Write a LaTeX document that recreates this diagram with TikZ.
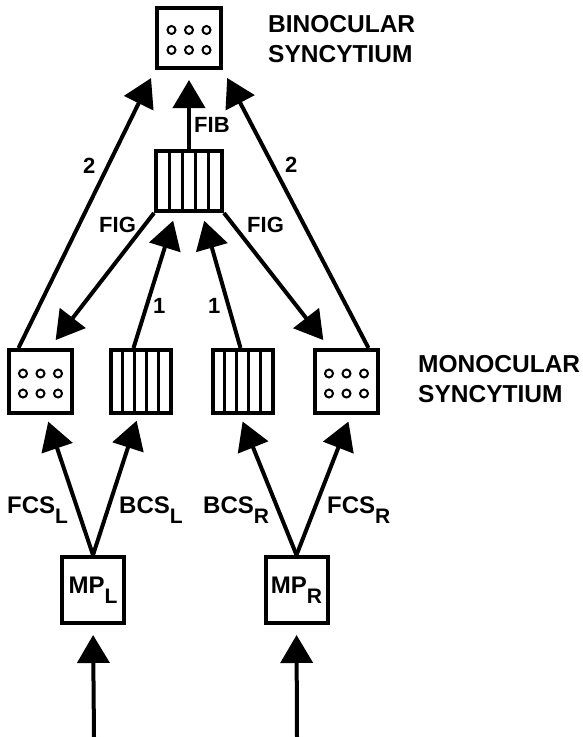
\documentclass[tikz,border=0pt]{standalone}
\usepackage{fontspec}
\setmainfont{Liberation Sans}
\usetikzlibrary{arrows.meta,calc}
\newcommand{\lowsub}[1]{\raisebox{-0.42em}{\fontsize{21}{21}\selectfont #1}}

\begin{document}
\begin{tikzpicture}[x=1pt,y=-1pt,
    arr/.style={line width=4pt,-{Triangle[length=28pt,width=32pt]}},
    dotbox/.style={draw,line width=4pt,inner sep=0pt,minimum width=63pt,minimum height=63pt,
      path picture={\foreach \i in {-1,0,1} \foreach \j in {-1,1}
        \draw[line width=2pt] ([xshift=\i*17.5pt,yshift={\j*10pt-2pt}]path picture bounding box.center) circle (4pt);}},
    stripebox/.style={draw,line width=4pt,inner sep=0pt,minimum width=60pt,minimum height=63pt,
      path picture={\foreach \k in {1,...,4}
        \draw[line width=3pt] ($(path picture bounding box.south west)!\k/5!(path picture bounding box.south east)$)
          -- ($(path picture bounding box.north west)!\k/5!(path picture bounding box.north east)$);}},
    mpbox/.style={draw,line width=4pt,inner sep=0pt,minimum width=62pt,minimum height=66pt,
      font=\fontsize{24}{24}\selectfont\bfseries},
    lbl/.style={inner sep=0pt,font=\fontsize{22}{22}\selectfont\bfseries},
    sublbl/.style={lbl,font=\fontsize{24}{24}\selectfont\bfseries},
    title/.style={inner sep=0pt,align=left,font=\fontsize{24.5}{30}\selectfont\bfseries}]
  \useasboundingbox (0,0) rectangle (582,737);

  % boxes
  \node[dotbox,minimum width=64pt,minimum height=60pt] (bin) at (189,38) {};
  \node[stripebox,minimum width=66pt,minimum height=60pt] (fib) at (189,181) {};
  \node[dotbox] (monoL) at (40.5,381.5) {};
  \node[stripebox] (stripL) at (140.5,381.5) {};
  \node[stripebox] (stripR) at (242.5,381.5) {};
  \node[dotbox] (monoR) at (346.5,381.5) {};
  \node[mpbox] (mpL) at (93,590) {MP\lowsub{L}};
  \node[mpbox] (mpR) at (296.5,590) {MP\lowsub{R}};
  \coordinate (inL) at (94,737);
  \coordinate (inR) at (297,737);

  % titles
  \node[title,anchor=north west] (bintext) at (268,15) {BINOCULAR\\SYNCYTIUM};
  \node[title,anchor=north west] (monotext) at (418,355) {MONOCULAR\\SYNCYTIUM};

  % arrows
  \draw[arr,shorten >=10pt] (fib.north) -- (bin.south);
  \draw[arr,shorten >=9pt] ([xshift=-22pt]monoL.north) -- (bin.south west);
  \draw[arr,shorten >=9pt] ([xshift=22pt]monoR.north) -- (bin.south east);
  \draw[arr,shorten >=10pt] (fib.south west) -- ([xshift=9pt]monoL.north);
  \draw[arr,shorten >=10pt] (fib.south east) -- ([xshift=-17pt]monoR.north);
  \draw[arr,shorten >=8pt] ([xshift=-7pt]stripL.north) -- ([xshift=-13.5pt]fib.south);
  \draw[arr,shorten >=8pt] ([xshift=-2pt]stripR.north) -- ([xshift=13pt]fib.south);
  \draw[arr,shorten >=7pt] (mpL.north) -- ([xshift=5.5pt]monoL.south);
  \draw[arr,shorten >=6pt] (mpL.north) -- ([xshift=-2pt]stripL.south);
  \draw[arr,shorten >=7pt] (mpR.north) -- ([xshift=-2.5pt]stripR.south);
  \draw[arr,shorten >=7pt] (mpR.north) -- ([xshift=4.5pt]monoR.south);
  \draw[arr,shorten >=10pt] (inL) -- (mpL.south);
  \draw[arr,shorten >=10pt] (inR) -- (mpR.south);

  % labels
  \node[lbl,anchor=base west] (fibtext) at (194,132) {FIB};
  \node[lbl,anchor=base west] (twoL) at (83,173) {2};
  \node[lbl,anchor=base west] (twoR) at (285,172) {2};
  \node[lbl,anchor=base west] (figL) at (99,232) {FIG};
  \node[lbl,anchor=base west] (figR) at (247,232) {FIG};
  \node[lbl,anchor=base west] (oneL) at (153,313) {1};
  \node[lbl,anchor=base west] (oneR) at (208,313) {1};
  \node[sublbl,anchor=base west] (fcsL) at (7,513) {FCS\lowsub{L}};
  \node[sublbl,anchor=base west] (bcsL) at (119,513) {BCS\lowsub{L}};
  \node[sublbl,anchor=base west] (bcsR) at (203,513) {BCS\lowsub{R}};
  \node[sublbl,anchor=base west] (fcsR) at (327,513) {FCS\lowsub{R}};
\end{tikzpicture}
\end{document}
